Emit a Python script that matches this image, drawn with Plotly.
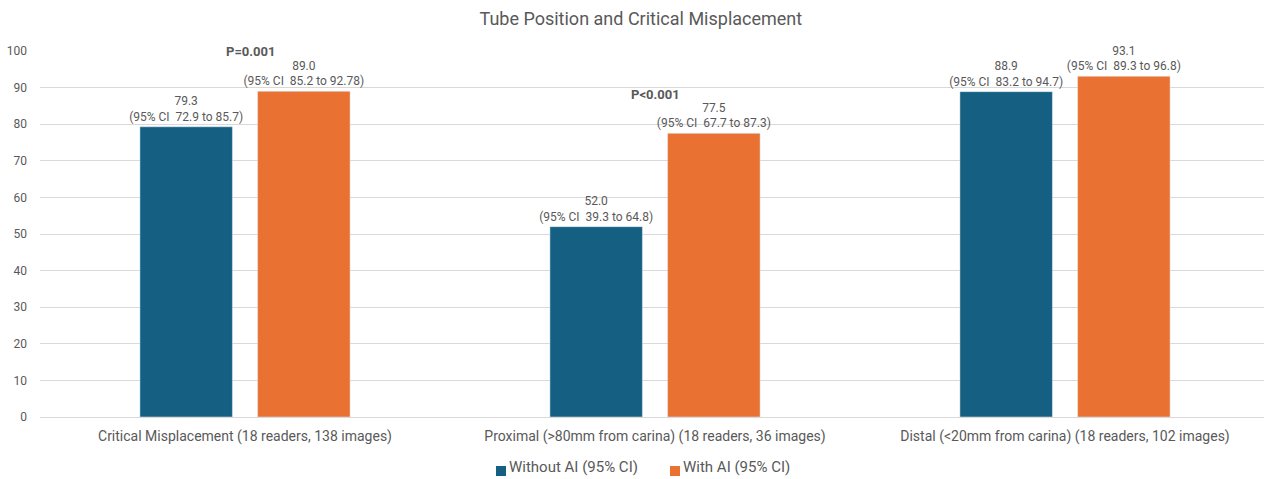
import plotly.graph_objects as go

categories = [
    "Critical Misplacement (18 readers, 138 images)",
    "Proximal (>80mm from carina) (18 readers, 36 images)",
    "Distal (<20mm from carina) (18 readers, 102 images)",
]
series_names = ["Without AI (95% CI)", "With AI (95% CI)"]
without_ai = [79.3, 52.0, 88.9]
without_ci_low = ["72.9", "39.3", "83.2"]
without_ci_high = ["85.7", "64.8", "94.7"]
with_ai = [89.0, 77.5, 93.1]
with_ci_low = ["85.2", "67.7", "89.3"]
with_ci_high = ["92.78", "87.3", "96.8"]
p_values = ["P=0.001", "P<0.001", "P=0.051"]
y_ticks = [0, 10, 20, 30, 40, 50, 60, 70, 80, 90, 100]

BLUE = "#156082"
ORANGE = "#E97132"
GREY = "#595959"
FONT = "Roboto, Arial, sans-serif"

W, H = 1264, 479
L, R, T, B = 40, 0, 51, 62
PW, PH = W - L - R, H - T - B
CAT_PX = 410.0  # pixel width of one category


def px_x(px):
    return (px - L) / PW


def px_y(py):
    return (H - B - py) / PH


def labels(vals, lo, hi):
    return [f"{v:.1f}<br>(95% CI  {a} to {b})" for v, a, b in zip(vals, lo, hi)]


fig = go.Figure()
fig.add_trace(go.Bar(
    x=categories, y=without_ai, name=series_names[0],
    marker_color=BLUE,
    text=labels(without_ai, without_ci_low, without_ci_high),
    textposition="outside", cliponaxis=False, constraintext="none",
    textfont=dict(color=GREY, size=12, family=FONT),
))
fig.add_trace(go.Bar(
    x=categories, y=with_ai, name=series_names[1],
    marker_color=ORANGE,
    text=labels(with_ai, with_ci_low, with_ci_high),
    textposition="outside", cliponaxis=False, constraintext="none",
    textfont=dict(color=GREY, size=12, family=FONT),
))

p_label_y = [100, 88, 105]
p_label_dx = [5, 0, -3]
for cat, p, yy, dx in zip(categories, p_values, p_label_y, p_label_dx):
    fig.add_annotation(
        x=cat, y=yy, text=f"<b>{p}</b>", showarrow=False,
        xref="x", yref="y", yanchor="middle", xshift=dx,
        font=dict(color=GREY, size=13, family=FONT),
    )

# legend drawn as swatches + text
legend_items = [(496, BLUE), (670, ORANGE)]
for (x0, col), name in zip(legend_items, series_names):
    fig.add_shape(type="rect", xref="paper", yref="paper",
                  x0=px_x(x0), x1=px_x(x0 + 10), y0=px_y(476), y1=px_y(466),
                  fillcolor=col, line=dict(width=0))
    fig.add_annotation(x=px_x(x0 + 12), y=px_y(467), xref="paper", yref="paper",
                       text=name, showarrow=False, xanchor="left", yanchor="middle",
                       borderpad=0,
                       font=dict(size=15, color=GREY, family=FONT))

fig.update_layout(
    width=W, height=H,
    margin=dict(l=L, r=R, t=T, b=B, autoexpand=False),
    paper_bgcolor="white", plot_bgcolor="white",
    font=dict(family=FONT, color=GREY, size=12),
    title=dict(text="Tube Position and Critical Misplacement", x=0.507, xanchor="center",
               y=1 - 19 / H, yanchor="middle",
               font=dict(size=18, color=GREY, family=FONT)),
    barmode="group", bargap=0.426, bargroupgap=0.214,
    showlegend=False,
    xaxis=dict(showline=True, linecolor="#d9d9d9", ticks="", automargin=False,
               range=[-0.5, -0.5 + PW / CAT_PX], ticklabelstandoff=6,
               tickfont=dict(size=14, color=GREY, family=FONT)),
    yaxis=dict(range=[0, 100], tickvals=y_ticks, showgrid=True, gridcolor="#d9d9d9",
               zeroline=False, ticks="", automargin=False,
               tickfont=dict(size=12, color=GREY, family=FONT),
               ticklabelstandoff=12),
)

fig.write_html(
    "out.html",
    config={"displayModeBar": False},
    post_script="document.body.style.margin='0';document.body.style.overflow='hidden';",
)
